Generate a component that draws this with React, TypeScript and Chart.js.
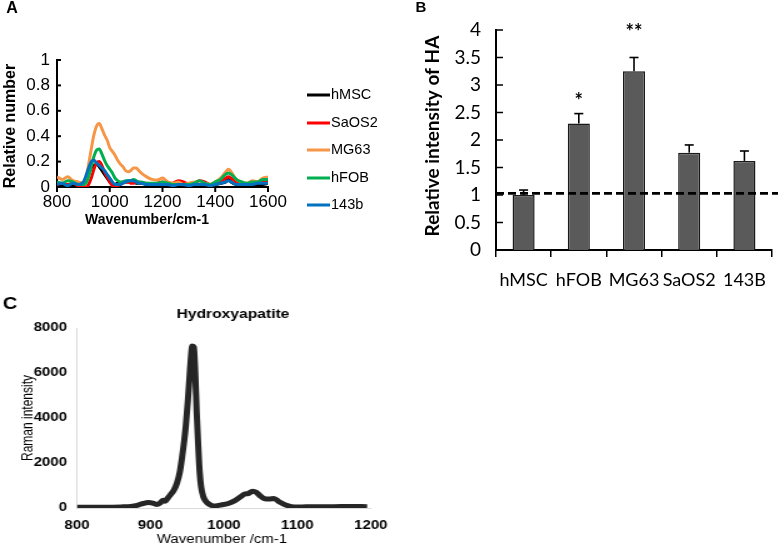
import React, { useEffect, useRef } from "react";
import { Chart, registerables } from "chart.js";
Chart.register(...registerables);

// ---------- Panel A : spectra ----------
const wavenumbersA = [800, 820, 840, 860, 880, 900, 910, 920, 930, 940, 950, 960, 970, 980, 990, 1000, 1010, 1020, 1030, 1040, 1050, 1060, 1070, 1080, 1090, 1100, 1110, 1120, 1140, 1160, 1180, 1200, 1220, 1240, 1260, 1280, 1300, 1320, 1340, 1360, 1380, 1400, 1420, 1440, 1450, 1460, 1480, 1500, 1520, 1540, 1560, 1580, 1600];
const hMSC = [0.01, 0.02, 0.01, 0.02, 0.01, 0.02, 0.05, 0.10, 0.15, 0.17, 0.18, 0.16, 0.13, 0.10, 0.07, 0.04, 0.02, 0.02, 0.03, 0.03, 0.04, 0.04, 0.04, 0.04, 0.04, 0.03, 0.03, 0.03, 0.02, 0.02, 0.02, 0.02, 0.02, 0.02, 0.02, 0.01, 0.02, 0.02, 0.02, 0.02, 0.02, 0.02, 0.03, 0.04, 0.06, 0.04, 0.02, 0.02, 0.02, 0.02, 0.02, 0.02, 0.03];
const SaOS2 = [0.02, 0.03, 0.02, 0.03, 0.01, 0.00, 0.00, 0.02, 0.07, 0.14, 0.19, 0.20, 0.17, 0.12, 0.08, 0.04, 0.01, 0.00, 0.01, 0.02, 0.03, 0.04, 0.04, 0.03, 0.03, 0.04, 0.04, 0.03, 0.03, 0.02, 0.03, 0.04, 0.02, 0.03, 0.05, 0.04, 0.02, 0.03, 0.05, 0.04, 0.02, 0.03, 0.04, 0.07, 0.08, 0.07, 0.04, 0.03, 0.02, 0.03, 0.04, 0.05, 0.05];
const MG63 = [0.08, 0.06, 0.08, 0.05, 0.04, 0.03, 0.08, 0.18, 0.30, 0.41, 0.48, 0.50, 0.46, 0.41, 0.37, 0.31, 0.28, 0.25, 0.21, 0.18, 0.16, 0.13, 0.12, 0.13, 0.15, 0.15, 0.13, 0.11, 0.08, 0.06, 0.055, 0.07, 0.04, 0.03, 0.04, 0.02, 0.03, 0.04, 0.02, 0.03, 0.02, 0.04, 0.07, 0.12, 0.14, 0.12, 0.06, 0.04, 0.03, 0.05, 0.04, 0.07, 0.08];
const hFOB = [0.04, 0.03, 0.05, 0.04, 0.02, 0.02, 0.03, 0.08, 0.16, 0.24, 0.29, 0.30, 0.26, 0.21, 0.17, 0.14, 0.11, 0.07, 0.05, 0.04, 0.04, 0.05, 0.05, 0.05, 0.06, 0.05, 0.04, 0.04, 0.03, 0.03, 0.03, 0.04, 0.03, 0.02, 0.02, 0.02, 0.02, 0.03, 0.05, 0.03, 0.02, 0.04, 0.06, 0.10, 0.11, 0.10, 0.06, 0.04, 0.03, 0.04, 0.04, 0.06, 0.06];
const line143b = [0.02, 0.03, 0.01, 0.03, 0.02, 0.04, 0.09, 0.15, 0.20, 0.21, 0.19, 0.17, 0.15, 0.13, 0.10, 0.07, 0.04, 0.02, 0.02, 0.02, 0.03, 0.04, 0.05, 0.05, 0.05, 0.04, 0.03, 0.03, 0.02, 0.02, 0.02, 0.02, 0.02, 0.01, 0.02, 0.02, 0.01, 0.02, 0.02, 0.02, 0.01, 0.02, 0.03, 0.04, 0.05, 0.04, 0.02, 0.02, 0.02, 0.02, 0.03, 0.03, 0.03];
const seriesNamesA = ["hMSC", "SaOS2", "MG63", "hFOB", "143b"];
const seriesValuesA = [hMSC, SaOS2, MG63, hFOB, line143b];
const seriesColorsA = ["#000000", "#ff0000", "#f79646", "#00b050", "#0070c0"];
const xTicksA = [800, 1000, 1200, 1400, 1600];
const yTicksA = [0, 0.2, 0.4, 0.6, 0.8, 1];

// ---------- Panel B : bars ----------
const cellLines = ["hMSC", "hFOB", "MG63", "SaOS2", "143B"];
const haIntensity = [1.0, 2.3, 3.25, 1.77, 1.62];
const haErrorTop = [1.09, 2.48, 3.5, 1.91, 1.8];
const significance = ["", "*", "**", "", ""];
const significanceY = [0, 2.7, 3.95, 0, 0];
const baselineLevel = 1.03;
const yTicksB = [0, 0.5, 1, 1.5, 2, 2.5, 3, 3.5, 4];

// ---------- Panel C : hydroxyapatite spectrum ----------
const wavenumbersC = [800, 820, 840, 860, 870, 880, 890, 897, 903, 908, 913, 917, 920, 923, 927, 932, 936, 940, 943, 946, 948, 951, 954, 957, 959, 961, 963, 965, 967, 969, 972, 976, 981, 986, 995, 1006, 1015, 1022, 1028, 1033, 1039, 1044, 1049, 1055, 1062, 1068, 1075, 1084, 1092, 1100, 1112, 1130, 1150, 1170, 1195];
const ramanIntensity = [30, 30, 35, 50, 60, 100, 200, 240, 220, 160, 220, 350, 300, 420, 580, 800, 1100, 1600, 2250, 3000, 3600, 4800, 6200, 7200, 7150, 6000, 4200, 2800, 1600, 930, 500, 270, 150, 90, 130, 200, 330, 480, 620, 640, 750, 700, 550, 420, 400, 420, 280, 130, 60, 40, 55, 60, 60, 70, 60];
const xTicksC = [800, 900, 1000, 1100, 1200];
const yTicksC = [0, 2000, 4000, 6000, 8000];

const ARIAL = "'Liberation Sans', Arial, sans-serif";
const CALIBRI = "Lato, 'Liberation Sans', sans-serif";

type TextItem = { text: string; x: number; y: number; font: string; rot?: number; align?: CanvasTextAlign };

function textsPlugin(items: TextItem[]) {
  return {
    id: "texts",
    afterDraw(chart: any) {
      const ctx = chart.ctx;
      items.forEach((t) => {
        ctx.save();
        ctx.font = t.font;
        ctx.fillStyle = "#000";
        ctx.textAlign = t.align || "center";
        ctx.textBaseline = "middle";
        ctx.translate(t.x, t.y);
        if (t.rot) ctx.rotate(t.rot);
        ctx.fillText(t.text, 0, 0);
        ctx.restore();
      });
    },
  };
}

function ChartCanvas(props: { left: number; top: number; dw: number; iw: number; h: number; make: () => any }) {
  const ref = useRef<HTMLCanvasElement>(null);
  useEffect(() => {
    const chart = new Chart(ref.current as HTMLCanvasElement, props.make());
    return () => chart.destroy();
  }, []);
  return (
    <canvas
      ref={ref}
      width={props.iw}
      height={props.h}
      style={{ position: "absolute", left: props.left, top: props.top, width: props.dw + "px", height: props.h + "px", display: "block" }}
    />
  );
}

const fmt = (v: any) => String(+Number(v).toFixed(2));

// ---- Panel A config ----
function makeA() {
  const W = 378;
  const datasets = seriesNamesA.map((name, i) => ({
    label: name,
    data: wavenumbersA.map((w, j) => ({ x: w, y: seriesValuesA[i][j] })),
    borderColor: seriesColorsA[i],
    backgroundColor: seriesColorsA[i],
    borderWidth: 3,
    pointRadius: 0,
    cubicInterpolationMode: "monotone",
    order: seriesNamesA.length - i,
  }));
  const legendY = [95, 123, 150, 178, 205];
  const extras = {
    id: "extrasA",
    afterDraw(chart: any) {
      const ctx = chart.ctx;
      const { left, bottom } = chart.chartArea;
      const xs = chart.scales.x, ys = chart.scales.y;
      ctx.save();
      ctx.strokeStyle = "#000";
      ctx.lineWidth = 2;
      yTicksA.forEach((v) => {
        const y = ys.getPixelForValue(v);
        ctx.beginPath(); ctx.moveTo(left, y); ctx.lineTo(left + 4, y); ctx.stroke();
      });
      xTicksA.forEach((v) => {
        const x = xs.getPixelForValue(v);
        ctx.beginPath(); ctx.moveTo(x, bottom); ctx.lineTo(x, bottom + 5); ctx.stroke();
      });
      seriesNamesA.forEach((name, i) => {
        ctx.strokeStyle = seriesColorsA[i];
        ctx.lineWidth = 3;
        ctx.beginPath(); ctx.moveTo(307, legendY[i]); ctx.lineTo(330, legendY[i]); ctx.stroke();
        ctx.fillStyle = "#000";
        ctx.font = `14.5px ${ARIAL}`;
        ctx.textAlign = "left";
        ctx.textBaseline = "middle";
        ctx.fillText(name, 331, legendY[i]);
      });
      ctx.restore();
    },
  };
  return {
    type: "line",
    data: { datasets },
    options: {
      animation: false,
      responsive: false,
      events: [],
      layout: { padding: { left: 0, top: 60, right: W - 268, bottom: 0 } },
      plugins: { legend: { display: false }, tooltip: { enabled: false } },
      scales: {
        x: {
          type: "linear", min: 800, max: 1600,
          afterBuildTicks: (s: any) => { s.ticks = xTicksA.map((v) => ({ value: v })); },
          afterFit: (s: any) => { s.height = 232 - 187; },
          grid: { display: false, drawTicks: false },
          border: { display: true, color: "#000", width: 2 },
          ticks: { color: "#000", font: { family: ARIAL, size: 17 }, padding: 5, maxRotation: 0, autoSkip: false, callback: fmt },
        },
        y: {
          type: "linear", min: 0, max: 1,
          afterBuildTicks: (s: any) => { s.ticks = yTicksA.map((v) => ({ value: v })); },
          afterFit: (s: any) => { s.width = 57; },
          grid: { display: false, drawTicks: false },
          border: { display: true, color: "#000", width: 2 },
          ticks: { color: "#000", font: { family: ARIAL, size: 17 }, padding: 7, callback: fmt },
        },
      },
    },
    plugins: [
      extras,
      textsPlugin([
        { text: "A", x: 12, y: 9, font: `bold 16px ${ARIAL}` },
        { text: "Relative number", x: 11, y: 126, font: `bold 16px ${ARIAL}`, rot: -Math.PI / 2 },
        { text: "Wavenumber/cm-1", x: 147, y: 220, font: `bold 14px ${ARIAL}` },
      ]),
    ],
  };
}

// ---- Panel B config ----
function makeB() {
  const extras = {
    id: "extrasB",
    afterDatasetsDraw(chart: any) {
      const ctx = chart.ctx;
      const ys = chart.scales.y;
      const { left } = chart.chartArea;
      const meta = chart.getDatasetMeta(0);
      ctx.save();
      ctx.strokeStyle = "#000";
      ctx.lineWidth = 1.5;
      yTicksB.forEach((v) => {
        const y = ys.getPixelForValue(v);
        ctx.beginPath(); ctx.moveTo(left, y); ctx.lineTo(left + 7, y); ctx.stroke();
      });
      meta.data.forEach((bar: any, i: number) => {
        const y0 = ys.getPixelForValue(haIntensity[i]);
        const y1 = ys.getPixelForValue(haErrorTop[i]);
        ctx.lineWidth = 1.6;
        ctx.beginPath(); ctx.moveTo(bar.x, y0); ctx.lineTo(bar.x, y1); ctx.stroke();
        ctx.beginPath(); ctx.moveTo(bar.x - 4.5, y1); ctx.lineTo(bar.x + 4.5, y1); ctx.stroke();
        if (significance[i]) {
          ctx.fillStyle = "#000";
          ctx.font = `bold 20px ${CALIBRI}`;
          ctx.textAlign = "center";
          ctx.textBaseline = "middle";
          ctx.fillText(significance[i], bar.x, ys.getPixelForValue(significanceY[i]));
        }
      });
      const yb = ys.getPixelForValue(baselineLevel);
      ctx.setLineDash([8, 4]);
      ctx.lineWidth = 2.6;
      ctx.beginPath(); ctx.moveTo(left, yb); ctx.lineTo(chart.width, yb); ctx.stroke();
      ctx.restore();
    },
  };
  return {
    type: "bar",
    data: {
      labels: cellLines,
      datasets: [{
        label: "Relative intensity of HA",
        data: haIntensity,
        backgroundColor: "#5a5a5a",
        borderColor: "#1a1a1a",
        borderWidth: 1.5,
        barPercentage: 0.4,
        categoryPercentage: 1.0,
      }],
    },
    options: {
      animation: false,
      responsive: false,
      events: [],
      layout: { padding: { left: 0, top: 30, right: 1, bottom: 0 } },
      plugins: { legend: { display: false }, tooltip: { enabled: false } },
      scales: {
        x: {
          afterFit: (s: any) => { s.height = 50; },
          grid: { display: true, drawOnChartArea: false, drawTicks: true, tickLength: 7, color: "#000", lineWidth: 1.5, offset: true },
          border: { display: true, color: "#000", width: 2 },
          ticks: { color: "#000", font: { family: CALIBRI, size: 18 }, padding: 12, maxRotation: 0, autoSkip: false },
        },
        y: {
          type: "linear", min: 0, max: 4,
          afterBuildTicks: (s: any) => { s.ticks = yTicksB.map((v) => ({ value: v })); },
          afterFit: (s: any) => { s.width = 116; },
          grid: { display: false, drawTicks: false },
          border: { display: true, color: "#000", width: 2 },
          ticks: { color: "#000", font: { family: CALIBRI, size: 19 }, padding: 15, callback: fmt },
        },
      },
    },
    plugins: [
      extras,
      textsPlugin([
        { text: "B", x: 41, y: 8, font: `bold 15px ${ARIAL}` },
        { text: "Relative intensity of HA", x: 53, y: 136, font: `bold 19px ${CALIBRI}`, rot: -Math.PI / 2 },
      ]),
    ],
  };
}

// ---- Panel C config ---- display 400 wide, internal 320 (horizontal stretch)
function makeC() {
  const sx = 320 / 400;
  return {
    type: "line",
    data: {
      datasets: [{
        label: "Hydroxyapatite",
        data: wavenumbersC.map((w, i) => ({ x: w, y: ramanIntensity[i] })),
        borderColor: "#262626",
        borderWidth: 5,
        pointRadius: 0,
        cubicInterpolationMode: "monotone",
      }],
    },
    options: {
      animation: false,
      responsive: false,
      events: [],
      layout: { padding: { left: 0, top: 38, right: 320 - 380 * sx, bottom: 0 } },
      plugins: { legend: { display: false }, tooltip: { enabled: false } },
      scales: {
        x: {
          type: "linear", min: 800, max: 1200,
          afterBuildTicks: (s: any) => { s.ticks = xTicksC.map((v) => ({ value: v })); },
          afterFit: (s: any) => { s.height = 36; },
          grid: { display: false, drawTicks: false },
          border: { display: true, color: "#d9d9d9", width: 1 },
          ticks: { color: "#000", font: { family: ARIAL, size: 12, weight: "bold" }, padding: 10, maxRotation: 0, callback: fmt },
        },
        y: {
          type: "linear", min: 0, max: 8000,
          afterBuildTicks: (s: any) => { s.ticks = yTicksC.map((v) => ({ value: v })); },
          afterFit: (s: any) => { s.width = 77 * sx; },
          grid: { display: false, drawTicks: false },
          border: { display: true, color: "#d9d9d9", width: 1 },
          ticks: { color: "#000", font: { family: ARIAL, size: 12, weight: "bold" }, padding: 8, callback: fmt },
        },
      },
    },
    plugins: [
      textsPlugin([
        { text: "C", x: 10 * sx, y: 15, font: `bold 16px ${ARIAL}` },
        { text: "Hydroxyapatite", x: 233 * sx, y: 25, font: `bold 12.5px ${ARIAL}` },
        { text: "Raman intensity", x: 28 * sx, y: 128, font: `12px ${ARIAL}`, rot: -Math.PI / 2 },
        { text: "Wavenumber /cm-1", x: 222 * sx, y: 250, font: `12px ${ARIAL}` },
      ]),
    ],
  };
}

export default function App() {
  return (
    <div style={{ position: "fixed", left: 0, top: 0, width: 778, height: 544, background: "#fff", overflow: "hidden" }}>
      <ChartCanvas left={0} top={0} dw={378} iw={378} h={232} make={makeA} />
      <ChartCanvas left={380} top={0} dw={398} iw={398} h={300} make={makeB} />
      <ChartCanvas left={0} top={290} dw={400} iw={320} h={254} make={makeC} />
    </div>
  );
}
